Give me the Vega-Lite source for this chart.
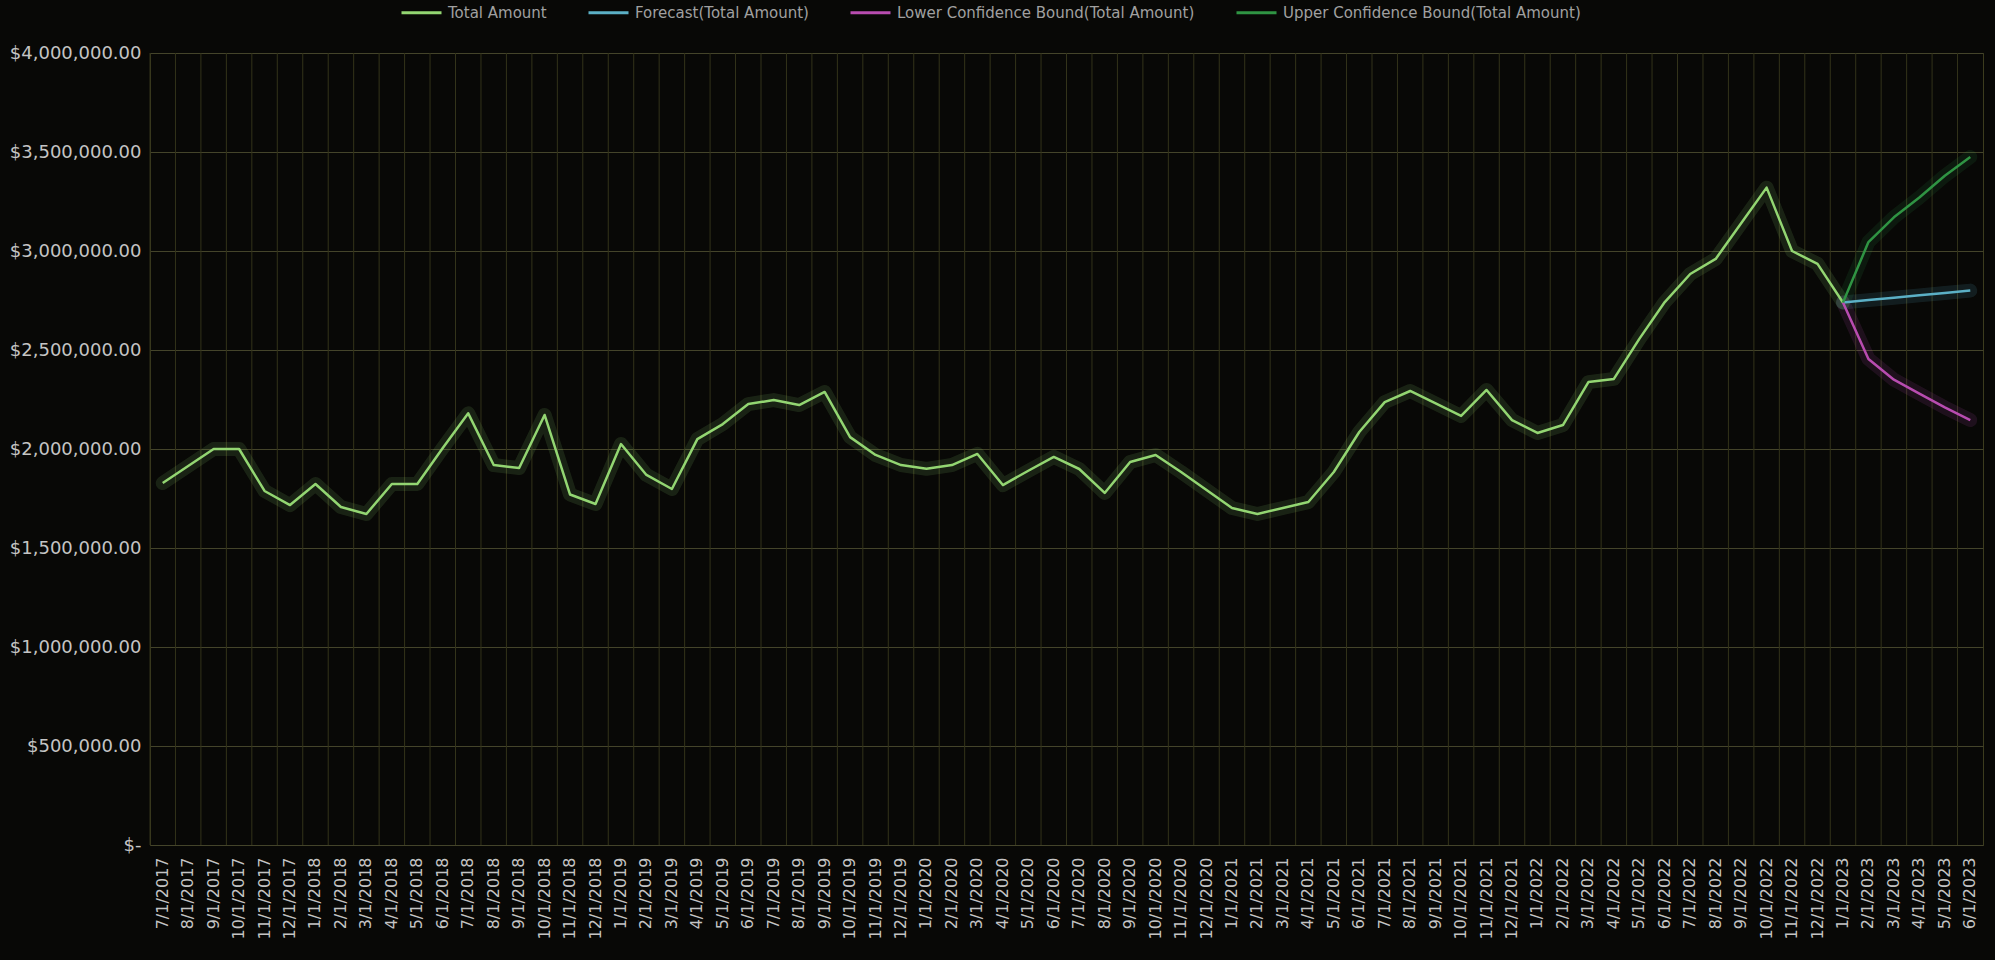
{
  "$schema": "https://vega.github.io/schema/vega-lite/v6.json",
  "width": 1833,
  "height": 792,
  "autosize": {"type": "none"},
  "padding": {"left": 150, "top": 53, "right": 12, "bottom": 115},
  "background": "#080806",
  "config": {
    "font": "DejaVu Sans",
    "view": {"stroke": "#3c3c1e", "strokeWidth": 1},
    "axisX": {"grid": false, "labelAngle": -90, "labelFontSize": 16, "labelColor": "#c4c4c4", "labelPadding": 12, "domain": false, "ticks": false, "title": null},
    "axisY": {"grid": true, "gridColor": "#44442a", "gridWidth": 1, "labelFontSize": 18, "labelColor": "#c4c4c4", "labelPadding": 9, "domain": false, "ticks": false, "title": null}
  },
  "data": {
    "values": [
      {"month": "7/1/2017", "Total Amount": 1828000},
      {"month": "8/1/2017", "Total Amount": 1914000},
      {"month": "9/1/2017", "Total Amount": 2000000},
      {"month": "10/1/2017", "Total Amount": 2000000},
      {"month": "11/1/2017", "Total Amount": 1788000},
      {"month": "12/1/2017", "Total Amount": 1717000},
      {"month": "1/1/2018", "Total Amount": 1823000},
      {"month": "2/1/2018", "Total Amount": 1707000},
      {"month": "3/1/2018", "Total Amount": 1672000},
      {"month": "4/1/2018", "Total Amount": 1823000},
      {"month": "5/1/2018", "Total Amount": 1823000},
      {"month": "6/1/2018", "Total Amount": 2005000},
      {"month": "7/1/2018", "Total Amount": 2180000},
      {"month": "8/1/2018", "Total Amount": 1919000},
      {"month": "9/1/2018", "Total Amount": 1904000},
      {"month": "10/1/2018", "Total Amount": 2172000},
      {"month": "11/1/2018", "Total Amount": 1770000},
      {"month": "12/1/2018", "Total Amount": 1722000},
      {"month": "1/1/2019", "Total Amount": 2025000},
      {"month": "2/1/2019", "Total Amount": 1869000},
      {"month": "3/1/2019", "Total Amount": 1798000},
      {"month": "4/1/2019", "Total Amount": 2050000},
      {"month": "5/1/2019", "Total Amount": 2126000},
      {"month": "6/1/2019", "Total Amount": 2227000},
      {"month": "7/1/2019", "Total Amount": 2247000},
      {"month": "8/1/2019", "Total Amount": 2222000},
      {"month": "9/1/2019", "Total Amount": 2288000},
      {"month": "10/1/2019", "Total Amount": 2060000},
      {"month": "11/1/2019", "Total Amount": 1970000},
      {"month": "12/1/2019", "Total Amount": 1919000},
      {"month": "1/1/2020", "Total Amount": 1900000},
      {"month": "2/1/2020", "Total Amount": 1919000},
      {"month": "3/1/2020", "Total Amount": 1975000},
      {"month": "4/1/2020", "Total Amount": 1818000},
      {"month": "5/1/2020", "Total Amount": 1890000},
      {"month": "6/1/2020", "Total Amount": 1960000},
      {"month": "7/1/2020", "Total Amount": 1899000},
      {"month": "8/1/2020", "Total Amount": 1778000},
      {"month": "9/1/2020", "Total Amount": 1934000},
      {"month": "10/1/2020", "Total Amount": 1970000},
      {"month": "11/1/2020", "Total Amount": 1884000},
      {"month": "12/1/2020", "Total Amount": 1793000},
      {"month": "1/1/2021", "Total Amount": 1702000},
      {"month": "2/1/2021", "Total Amount": 1672000},
      {"month": "3/1/2021", "Total Amount": 1702000},
      {"month": "4/1/2021", "Total Amount": 1732000},
      {"month": "5/1/2021", "Total Amount": 1884000},
      {"month": "6/1/2021", "Total Amount": 2086000},
      {"month": "7/1/2021", "Total Amount": 2237000},
      {"month": "8/1/2021", "Total Amount": 2293000},
      {"month": "9/1/2021", "Total Amount": 2230000},
      {"month": "10/1/2021", "Total Amount": 2167000},
      {"month": "11/1/2021", "Total Amount": 2298000},
      {"month": "12/1/2021", "Total Amount": 2146000},
      {"month": "1/1/2022", "Total Amount": 2081000},
      {"month": "2/1/2022", "Total Amount": 2121000},
      {"month": "3/1/2022", "Total Amount": 2338000},
      {"month": "4/1/2022", "Total Amount": 2354000},
      {"month": "5/1/2022", "Total Amount": 2556000},
      {"month": "6/1/2022", "Total Amount": 2742000},
      {"month": "7/1/2022", "Total Amount": 2884000},
      {"month": "8/1/2022", "Total Amount": 2960000},
      {"month": "9/1/2022", "Total Amount": 3140000},
      {"month": "10/1/2022", "Total Amount": 3320000},
      {"month": "11/1/2022", "Total Amount": 3000000},
      {"month": "12/1/2022", "Total Amount": 2935000},
      {"month": "1/1/2023", "Total Amount": 2740000, "Forecast(Total Amount)": 2740000, "Lower Confidence Bound(Total Amount)": 2740000, "Upper Confidence Bound(Total Amount)": 2740000},
      {"month": "2/1/2023", "Forecast(Total Amount)": 2752000, "Lower Confidence Bound(Total Amount)": 2455000, "Upper Confidence Bound(Total Amount)": 3045000},
      {"month": "3/1/2023", "Forecast(Total Amount)": 2764000, "Lower Confidence Bound(Total Amount)": 2350000, "Upper Confidence Bound(Total Amount)": 3170000},
      {"month": "4/1/2023", "Forecast(Total Amount)": 2776000, "Lower Confidence Bound(Total Amount)": 2280000, "Upper Confidence Bound(Total Amount)": 3270000},
      {"month": "5/1/2023", "Forecast(Total Amount)": 2788000, "Lower Confidence Bound(Total Amount)": 2210000, "Upper Confidence Bound(Total Amount)": 3380000},
      {"month": "6/1/2023", "Forecast(Total Amount)": 2800000, "Lower Confidence Bound(Total Amount)": 2146000, "Upper Confidence Bound(Total Amount)": 3475000}
    ]
  },
  "layer": [
    {
      "mark": {"type": "rule", "color": "#33331a", "strokeWidth": 1},
      "encoding": {
        "x": {"field": "month", "type": "ordinal", "sort": null, "bandPosition": 0,
              "scale": {"type": "band", "paddingInner": 0, "paddingOuter": 0}}
      }
    },
    {
      "transform": [{"fold": ["Total Amount", "Forecast(Total Amount)", "Lower Confidence Bound(Total Amount)", "Upper Confidence Bound(Total Amount)"], "as": ["series", "value"]}],
      "encoding": {
        "x": {"field": "month", "type": "ordinal", "sort": null, "bandPosition": 0.5},
        "y": {"field": "value", "type": "quantitative",
              "scale": {"domain": [0, 4000000], "nice": false},
              "axis": {"values": [0, 500000, 1000000, 1500000, 2000000, 2500000, 3000000, 3500000, 4000000],
                       "labelExpr": "datum.value === 0 ? '$-' : '$' + format(datum.value, ',.2f')"}},
        "color": {"field": "series", "type": "nominal",
                  "scale": {"domain": ["Total Amount", "Forecast(Total Amount)", "Lower Confidence Bound(Total Amount)", "Upper Confidence Bound(Total Amount)"],
                            "range": ["#93d672", "#5bb0c6", "#b84cb0", "#2f9443"]},
                  "legend": {"orient": "none", "legendX": 250, "legendY": -62, "direction": "horizontal", "title": null,
                             "symbolType": "stroke", "symbolSize": 1600, "symbolStrokeWidth": 3, "symbolOpacity": 1,
                             "labelFontSize": 15, "labelLimit": 0, "labelColor": "#a0a0a0", "labelOffset": 5, "columnPadding": 35}}
      },
      "layer": [
        {"mark": {"type": "line", "strokeWidth": 14, "opacity": 0.13, "strokeJoin": "round", "strokeCap": "round"}},
        {"mark": {"type": "line", "strokeWidth": 2.5, "strokeJoin": "round"}}
      ]
    }
  ]
}
